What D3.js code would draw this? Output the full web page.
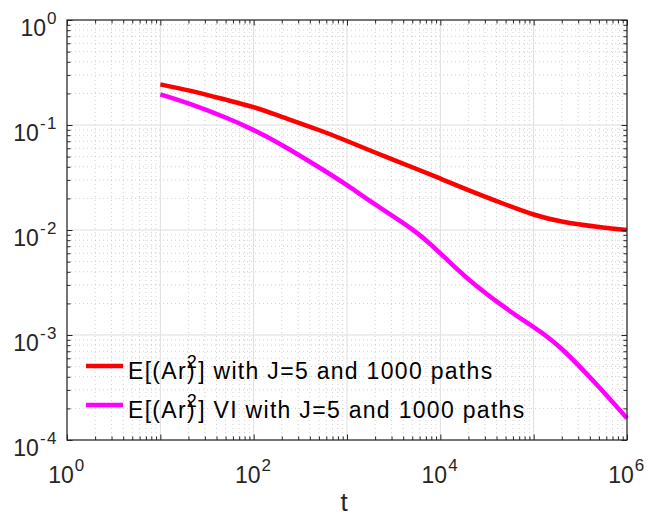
<!DOCTYPE html>
<html>
<head>
<meta charset="utf-8">
<script src="https://cdn.jsdelivr.net/npm/d3@7"></script>
<style>
  body { margin: 0; background: #fff; }
  svg { display: block; font-family: "Liberation Sans", Arial, Helvetica, sans-serif; }
</style>
</head>
<body>
<div id="content"></div>
<script>
let width = 648;
let height = 516;
let margin = ({top: 20, right: 21, bottom: 76, left: 67});

// values
let tValues = [10, 20, 50, 100, 200, 500, 1000, 2000, 5000, 1e4, 2e4, 5e4, 1e5, 2e5, 5e5, 1e6];
let arValues = [0.244, 0.2136, 0.1742, 0.1477, 0.1197, 0.0896, 0.0704, 0.0547, 0.0396, 0.0309,
                0.0240, 0.0175, 0.01405, 0.01205, 0.01068, 0.0100];
let arViValues = [0.1961, 0.1606, 0.1179, 0.0894, 0.0645, 0.0396, 0.0267, 0.01753, 0.01015, 0.00600,
                  0.00340, 0.00181, 0.00119, 0.000736, 0.000320, 0.000161];
let xTickExps = [0, 2, 4, 6];
let yTickExps = [0, -1, -2, -3, -4];
let seriesNames = ["with J=5 and 1000 paths", "VI with J=5 and 1000 paths"];
let seriesColors = ["#ff0000", "#ff00ff"];

let axisColor = "#262626";

let svg = d3.select("#content")
    .append("svg")
    .attr("width", width)
    .attr("height", height);

let xScale = d3.scaleLog()
    .domain([1, 1e6])
    .range([margin.left, width - margin.right]);

let yScale = d3.scaleLog()
    .domain([1e-4, 1])
    .range([height - margin.bottom, margin.top]);

// minor positions 2..9 inside every decade
function minors(lo, hi) {
    let out = [];
    for (let e = lo; e < hi; e++) {
        for (let m = 2; m <= 9; m++) out.push(m * Math.pow(10, e));
    }
    return out;
}
let xMinor = minors(0, 6);
let yMinor = minors(-4, 0);
let xMajor = d3.range(0, 7).map(e => Math.pow(10, e));
let yMajor = d3.range(-4, 1).map(e => Math.pow(10, e));

let plotW = width - margin.left - margin.right;
let plotH = height - margin.top - margin.bottom;

// grid
let grid = svg.append("g");
grid.selectAll(".xminor").data(xMinor).enter().append("line")
    .attr("x1", d => xScale(d)).attr("x2", d => xScale(d))
    .attr("y1", margin.top).attr("y2", height - margin.bottom)
    .attr("stroke", "#c4c4c4").attr("stroke-width", 0.8).attr("stroke-dasharray", "1,3");
grid.selectAll(".yminor").data(yMinor).enter().append("line")
    .attr("y1", d => yScale(d)).attr("y2", d => yScale(d))
    .attr("x1", margin.left).attr("x2", width - margin.right)
    .attr("stroke", "#c4c4c4").attr("stroke-width", 0.8).attr("stroke-dasharray", "1,3");
grid.selectAll(".xmajor").data(xMajor).enter().append("line")
    .attr("x1", d => xScale(d)).attr("x2", d => xScale(d))
    .attr("y1", margin.top).attr("y2", height - margin.bottom)
    .attr("stroke", "#dedede").attr("stroke-width", 1);
grid.selectAll(".ymajor").data(yMajor).enter().append("line")
    .attr("y1", d => yScale(d)).attr("y2", d => yScale(d))
    .attr("x1", margin.left).attr("x2", width - margin.right)
    .attr("stroke", "#dedede").attr("stroke-width", 1);

// lines
let line = d3.line()
    .x(d => xScale(d[0]))
    .y(d => yScale(d[1]))
    .curve(d3.curveNatural);

[arValues, arViValues].forEach(function(vals, i) {
    svg.append("path")
        .datum(tValues.map((t, k) => [t, vals[k]]))
        .attr("fill", "none")
        .attr("stroke", seriesColors[i])
        .attr("stroke-width", 4.5)
        .attr("d", line);
});

// axes: inward ticks on all four sides
function addAxis(axis, transform) {
    let g = svg.append("g").attr("transform", transform).call(axis);
    g.select(".domain").remove();
    g.selectAll("line").attr("stroke", axisColor);
    g.selectAll("text").remove();
}
let majLen = 5.5, minLen = 3.5;
addAxis(d3.axisBottom(xScale).tickValues(xMajor).tickSize(-majLen), "translate(0," + (height - margin.bottom) + ")");
addAxis(d3.axisBottom(xScale).tickValues(xMinor).tickSize(-minLen), "translate(0," + (height - margin.bottom) + ")");
addAxis(d3.axisTop(xScale).tickValues(xMajor).tickSize(-majLen), "translate(0," + margin.top + ")");
addAxis(d3.axisTop(xScale).tickValues(xMinor).tickSize(-minLen), "translate(0," + margin.top + ")");
addAxis(d3.axisLeft(yScale).tickValues(yMajor).tickSize(-majLen), "translate(" + margin.left + ",0)");
addAxis(d3.axisLeft(yScale).tickValues(yMinor).tickSize(-minLen), "translate(" + margin.left + ",0)");
addAxis(d3.axisRight(yScale).tickValues(yMajor).tickSize(-majLen), "translate(" + (width - margin.right) + ",0)");
addAxis(d3.axisRight(yScale).tickValues(yMinor).tickSize(-minLen), "translate(" + (width - margin.right) + ",0)");

svg.append("rect")
    .attr("x", margin.left).attr("y", margin.top)
    .attr("width", plotW).attr("height", plotH)
    .attr("fill", "none").attr("stroke", axisColor).attr("stroke-width", 1.2);

// tick labels 10^n
function powLabel(sel, exp) {
    sel.append("tspan").text("10");
    sel.append("tspan").attr("dx", 1).attr("dy", -12).attr("font-size", 17)
        .attr("letter-spacing", 1.5).text(exp);
}
xTickExps.forEach(function(e) {
    svg.append("text")
        .attr("x", xScale(Math.pow(10, e)))
        .attr("y", height - margin.bottom + 43)
        .attr("text-anchor", "middle")
        .attr("font-size", 23)
        .attr("fill", axisColor)
        .call(powLabel, String(e));
});
yTickExps.forEach(function(e) {
    svg.append("text")
        .attr("x", margin.left - 9)
        .attr("y", yScale(Math.pow(10, e)) + 15.5)
        .attr("text-anchor", "end")
        .attr("font-size", 23)
        .attr("fill", axisColor)
        .call(powLabel, String(e));
});

// x axis title
svg.append("text")
    .attr("x", (margin.left + width - margin.right) / 2 - 3)
    .attr("y", height - 5)
    .attr("text-anchor", "middle")
    .attr("font-size", 26)
    .attr("fill", axisColor)
    .text("t");

// legend (no box)
seriesNames.forEach(function(name, i) {
    let by = 379 + i * 39;
    svg.append("line")
        .attr("x1", 86).attr("x2", 123)
        .attr("y1", by - 13).attr("y2", by - 13)
        .attr("stroke", seriesColors[i]).attr("stroke-width", 4.5);
    let t = svg.append("text")
        .attr("x", 128).attr("y", by)
        .attr("font-size", 23)
        .attr("letter-spacing", 1.3)
        .attr("fill", "#000");
    t.append("tspan").text("E[(Ar)");
    t.append("tspan").attr("dx", -9).attr("dy", -11).attr("font-size", 18).text("2");
    t.append("tspan").attr("dy", 11).text("] " + name);
});
</script>
</body>
</html>
